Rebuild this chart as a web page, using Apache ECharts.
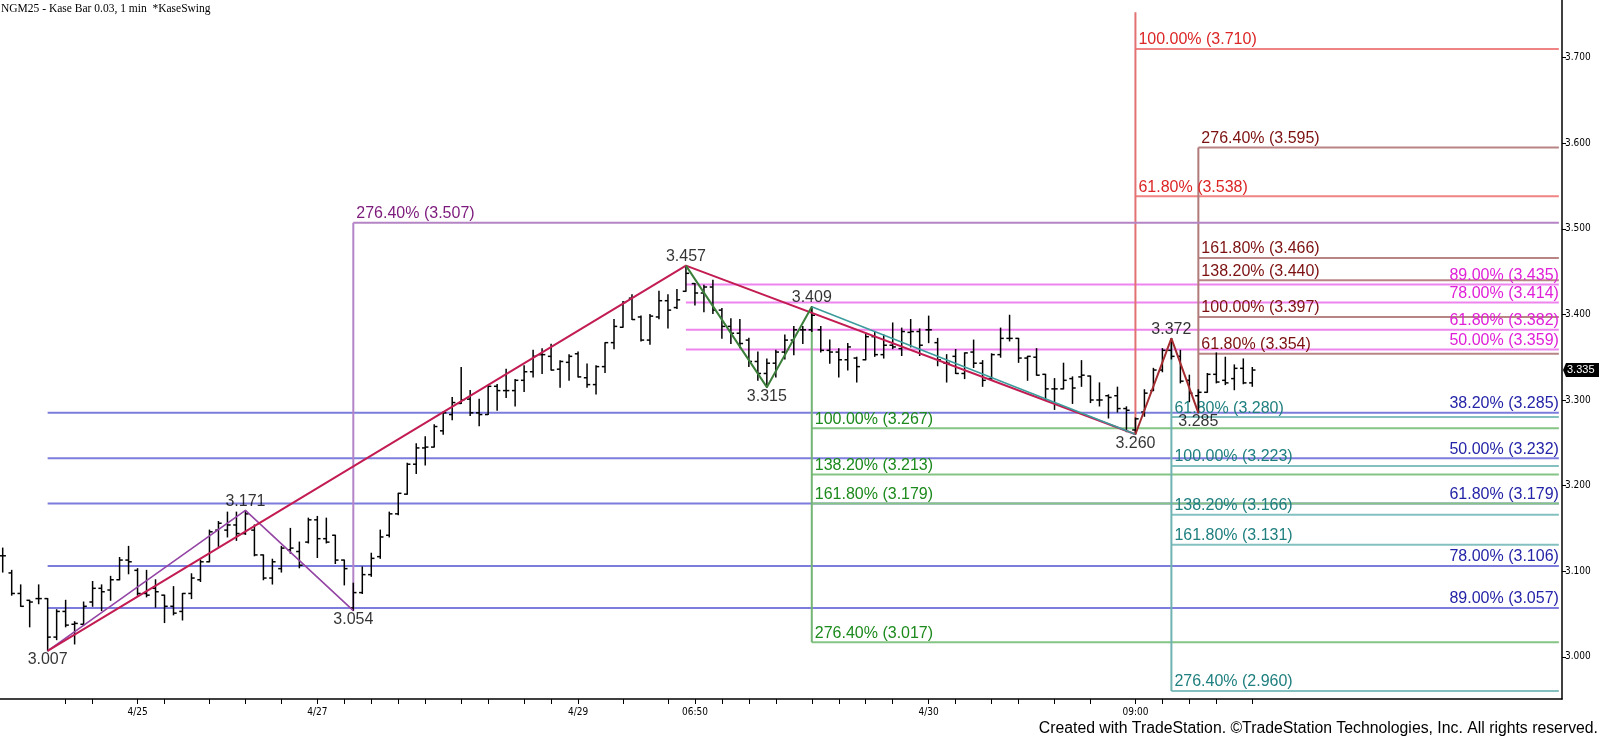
<!DOCTYPE html>
<html><head><meta charset="utf-8">
<script src="https://cdn.jsdelivr.net/npm/echarts@6/dist/echarts.min.js"></script>
<style>html,body{margin:0;padding:0;background:#fff}#c{width:1600px;height:739px}</style>
</head><body><div id="c"></div>
<script>
// ---- bar data (1-min Kase bars) ----
const opens = [3.118,3.098,3.074,3.066,3.068,3.068,3.023,3.053,3.038,3.038,3.064,3.080,3.078,3.090,3.113,3.101,3.074,3.080,3.072,3.059,
3.053,3.074,3.090,3.111,3.148,3.148,3.154,3.144,3.148,3.119,3.092,3.103,3.125,3.123,3.134,3.160,3.138,3.142,3.113,3.057,
3.075,3.096,3.117,3.142,3.167,3.190,3.225,3.244,3.245,3.264,3.283,3.296,3.301,3.285,3.283,3.316,3.311,3.311,3.323,3.333,
3.353,3.351,3.336,3.344,3.354,3.326,3.318,3.339,3.367,3.385,3.419,3.397,3.370,3.397,3.416,3.408,3.427,3.436,3.425,3.432,
3.405,3.386,3.378,3.370,3.345,3.331,3.343,3.356,3.370,3.382,3.382,3.382,3.358,3.356,3.347,3.349,3.347,3.374,3.353,3.364,
3.360,3.379,3.380,3.382,3.367,3.343,3.351,3.331,3.356,3.343,3.325,3.353,3.372,3.372,3.349,3.350,3.330,3.313,3.313,3.325,
3.327,3.328,3.300,3.305,3.305,3.290,3.265,3.286,3.311,3.335,3.358,3.351,3.323,3.305,3.309,3.330,3.323,3.325,3.337,3.320];
const highs = [3.127,3.101,3.084,3.066,3.084,3.068,3.055,3.066,3.041,3.064,3.088,3.084,3.094,3.116,3.129,3.103,3.101,3.090,3.072,3.082,
3.074,3.097,3.113,3.148,3.158,3.169,3.169,3.171,3.154,3.119,3.114,3.129,3.150,3.134,3.162,3.164,3.162,3.142,3.113,3.086,
3.105,3.121,3.148,3.169,3.191,3.226,3.249,3.257,3.271,3.286,3.303,3.338,3.311,3.301,3.317,3.318,3.336,3.324,3.340,3.358,
3.360,3.365,3.346,3.353,3.356,3.342,3.340,3.367,3.394,3.415,3.423,3.398,3.400,3.427,3.423,3.429,3.457,3.436,3.434,3.440,
3.407,3.395,3.394,3.372,3.356,3.348,3.358,3.376,3.386,3.386,3.409,3.386,3.370,3.360,3.366,3.350,3.378,3.380,3.376,3.390,
3.384,3.394,3.383,3.398,3.372,3.353,3.359,3.355,3.370,3.346,3.354,3.384,3.399,3.372,3.351,3.360,3.330,3.325,3.343,3.327,
3.346,3.328,3.320,3.306,3.315,3.292,3.279,3.312,3.337,3.360,3.372,3.358,3.329,3.312,3.331,3.355,3.350,3.341,3.348,3.338];
const lows = [3.099,3.072,3.059,3.035,3.062,3.007,3.020,3.035,3.015,3.037,3.059,3.054,3.066,3.090,3.097,3.072,3.070,3.058,3.040,3.049,
3.043,3.068,3.088,3.111,3.129,3.140,3.136,3.143,3.118,3.090,3.085,3.099,3.121,3.104,3.133,3.116,3.133,3.109,3.084,3.054,
3.074,3.094,3.115,3.140,3.166,3.190,3.214,3.224,3.245,3.260,3.277,3.296,3.282,3.270,3.283,3.288,3.303,3.293,3.310,3.327,
3.331,3.335,3.315,3.323,3.327,3.315,3.307,3.332,3.360,3.385,3.394,3.369,3.365,3.395,3.384,3.407,3.427,3.411,3.403,3.401,
3.372,3.366,3.361,3.339,3.323,3.315,3.327,3.348,3.353,3.366,3.380,3.356,3.343,3.327,3.335,3.321,3.347,3.351,3.349,3.360,
3.352,3.362,3.352,3.367,3.340,3.321,3.331,3.325,3.338,3.316,3.323,3.350,3.369,3.344,3.323,3.329,3.300,3.289,3.313,3.296,
3.316,3.297,3.293,3.279,3.286,3.263,3.260,3.281,3.311,3.333,3.348,3.320,3.298,3.285,3.309,3.320,3.318,3.312,3.319,3.316];
const closes = [3.118,3.074,3.059,3.064,3.068,3.023,3.053,3.037,3.039,3.059,3.080,3.076,3.090,3.113,3.111,3.074,3.072,3.076,3.059,3.051,
3.074,3.092,3.111,3.146,3.156,3.154,3.144,3.167,3.119,3.092,3.111,3.127,3.127,3.107,3.160,3.138,3.134,3.113,3.103,3.075,
3.096,3.115,3.140,3.167,3.191,3.225,3.244,3.245,3.269,3.285,3.297,3.300,3.285,3.283,3.316,3.311,3.311,3.323,3.333,3.351,
3.353,3.335,3.345,3.351,3.327,3.318,3.339,3.367,3.386,3.414,3.394,3.370,3.398,3.416,3.405,3.417,3.448,3.425,3.432,3.405,
3.386,3.378,3.366,3.345,3.331,3.343,3.356,3.370,3.382,3.382,3.399,3.358,3.356,3.347,3.362,3.339,3.374,3.353,3.364,3.362,
3.380,3.380,3.364,3.382,3.347,3.343,3.331,3.355,3.343,3.323,3.353,3.372,3.372,3.349,3.351,3.329,3.313,3.313,3.323,3.314,
3.329,3.300,3.300,3.303,3.290,3.288,3.278,3.308,3.335,3.358,3.351,3.322,3.308,3.309,3.330,3.321,3.320,3.337,3.320,3.335];

// ---- axes ----
const xTickIdx = [7,10,15,18,23,27,31,35,38,41,44,47,51,54,58,61,64,69,74,77,80,83,86,90,93,96,99,103,106,110,113,117,121,126,129,132,135,139];
const xLabelIdx = [15,35,64,77,103,126];
const xLabelText = ['4/25','4/27','4/29','06:50','4/30','09:00'];
const yTicks = [3.0,3.1,3.2,3.3,3.4,3.5,3.6,3.7];
const xMin = -0.3, xMax = 173.45, yMin = 2.9507, yMax = 3.7673;
const fibEnd = 173.1;

// ---- swings ----
const swingMainIdx = [5,76,126],  swingMainVal = [3.007,3.457,3.260];
const swingLateIdx = [126,130,133], swingLateVal = [3.260,3.372,3.285];
const swingPurpleIdx = [5,27,39], swingPurpleVal = [3.007,3.171,3.054];
const swingGreenIdx = [76,85,90], swingGreenVal = [3.457,3.315,3.409];
const swingTealIdx = [90,126], swingTealVal = [3.409,3.260];
const pivotIdx = [5,27,39,76,85,90,126,130,133];
const pivotVal = [3.007,3.171,3.054,3.457,3.315,3.409,3.260,3.372,3.285];
const pivotUp  = [false,true,false,true,false,true,false,true,false];

// ---- Fibonacci levels ----
const blueLevels = [3.285,3.232,3.179,3.106,3.057], bluePct = ['38.20%','50.00%','61.80%','78.00%','89.00%'];
const magentaLevels = [3.435,3.414,3.382,3.359], magentaPct = ['89.00%','78.00%','61.80%','50.00%'];
const redLevels = [3.710,3.538], redPct = ['100.00%','61.80%'];
const brownLevels = [3.595,3.466,3.440,3.397,3.354], brownPct = ['276.40%','161.80%','138.20%','100.00%','61.80%'];
const purpleLevels = [3.507], purplePct = ['276.40%'];
const greenLevels = [3.267,3.213,3.179,3.017], greenPct = ['100.00%','138.20%','161.80%','276.40%'];
const tealLevels = [3.280,3.223,3.166,3.131,2.960], tealPct = ['61.80%','100.00%','138.20%','161.80%','276.40%'];

const FONT = '"Liberation Sans", Arial, sans-serif';
const groups = [
  {start:5,   levels:blueLevels,    pct:bluePct,    line:'#7c7cdc', text:'#2424a8', align:'right'},
  {start:76,  levels:magentaLevels, pct:magentaPct, line:'#ee84ee', text:'#e020d8', align:'right'},
  {start:126, levels:redLevels,     pct:redPct,     line:'#f08484', text:'#dc2626', align:'left', vFrom:3.260, vTo:3.753, vColor:'#e27272'},
  {start:133, levels:brownLevels,   pct:brownPct,   line:'#b88484', text:'#7c1010', align:'left', vFrom:3.285, vTo:3.595, vColor:'#b07a7a'},
  {start:39,  levels:purpleLevels,  pct:purplePct,  line:'#b484c4', text:'#7c1a7c', align:'left', vFrom:3.054, vTo:3.507, vColor:'#b484c8'},
  {start:90,  levels:greenLevels,   pct:greenPct,   line:'#84c484', text:'#1c8a1c', align:'left', vFrom:3.409, vTo:3.017, vColor:'#74b474'},
  {start:130, levels:tealLevels,    pct:tealPct,    line:'#84c0c0', text:'#1f7f7f', align:'left', vFrom:3.372, vTo:2.960, vColor:'#70b2b2'}
];

const series = [];
groups.forEach(g => {
  series.push({
    type:'custom', coordinateSystem:'cartesian2d', silent:true, clip:false, z:1,
    data: g.levels.map(l => [g.start, l, fibEnd]),
    encode:{x:[0,2], y:1},
    renderItem:(params, api) => {
      const v = api.value(1);
      const p1 = api.coord([api.value(0), v]);
      const p2 = api.coord([api.value(2), v]);
      const txt = g.pct[params.dataIndex] + ' (' + v.toFixed(3) + ')';
      return {type:'group', children:[
        {type:'line', shape:{x1:p1[0], y1:p1[1], x2:p2[0], y2:p2[1]}, style:{stroke:g.line, lineWidth:2}},
        {type:'text', z2:5, style:{text:txt, x: g.align === 'left' ? p1[0] + 3 : p2[0], y:p1[1] - 1,
          fill:g.text, font:'16px ' + FONT, align:g.align, verticalAlign:'bottom'}}
      ]};
    }
  });
  if (g.vFrom !== undefined) {
    series.push({
      type:'custom', coordinateSystem:'cartesian2d', silent:true, clip:false, z:1,
      data:[[g.start, g.vFrom, g.vTo]], encode:{x:0, y:[1,2]},
      renderItem:(params, api) => {
        const a = api.coord([api.value(0), api.value(1)]);
        const b = api.coord([api.value(0), api.value(2)]);
        return {type:'line', shape:{x1:a[0], y1:a[1], x2:b[0], y2:b[1]}, style:{stroke:g.vColor, lineWidth:2}};
      }
    });
  }
});

// OHLC bars
series.push({
  type:'custom', coordinateSystem:'cartesian2d', silent:true, z:3,
  data: opens.map((o, i) => [i, o, highs[i], lows[i], closes[i]]),
  encode:{x:0, y:[1,2,3,4]},
  renderItem:(params, api) => {
    const i = api.value(0);
    const h = api.coord([i, api.value(2)]);
    const l = api.coord([i, api.value(3)]);
    const o = api.coord([i, api.value(1)]);
    const c = api.coord([i, api.value(4)]);
    const st = {stroke:'#000', lineWidth:1.5};
    return {type:'group', children:[
      {type:'line', shape:{x1:h[0], y1:h[1] - 0.5, x2:l[0], y2:l[1] + 0.5}, style:st},
      {type:'line', shape:{x1:o[0] - 3.2, y1:o[1], x2:o[0], y2:o[1]}, style:st},
      {type:'line', shape:{x1:c[0], y1:c[1], x2:c[0] + 3.2, y2:c[1]}, style:st}
    ]};
  }
});

function swing(idx, val, color, w) {
  series.push({type:'line', data: idx.map((x, k) => [x, val[k]]), symbol:'none', silent:true, z:4,
    lineStyle:{color:color, width:w}});
}
swing(swingPurpleIdx, swingPurpleVal, '#9444a4', 1.6);
swing(swingMainIdx, swingMainVal, '#c21c52', 2);
swing(swingGreenIdx, swingGreenVal, '#3a7e3a', 2);
swing(swingTealIdx, swingTealVal, '#3c9c9c', 1.6);
swing(swingLateIdx, swingLateVal, '#a42c30', 2);

// pivot labels
series.push({
  type:'scatter', symbolSize:0, silent:true, z:6,
  data: pivotIdx.map((x, k) => ({value:[x, pivotVal[k]],
    label:{show:true, position: pivotUp[k] ? 'top' : 'bottom', distance:1,
      formatter: pivotVal[k].toFixed(3), color:'#000', fontSize:16, fontFamily:FONT}}))
});

// last price box on the axis
series.push({
  type:'custom', coordinateSystem:'cartesian2d', silent:true, clip:false, z:10,
  data:[[xMax, closes[closes.length - 1]]], encode:{x:0, y:1},
  renderItem:(params, api) => {
    const p = api.coord([api.value(0), api.value(1)]);
    return {type:'group', children:[
      {type:'polygon', shape:{points:[[p[0]+1,p[1]],[p[0]+4,p[1]-7],[p[0]+37,p[1]-7],[p[0]+37,p[1]+7],[p[0]+4,p[1]+7]]}, style:{fill:'#000'}},
      {type:'text', style:{text:api.value(1).toFixed(3), x:p[0]+5, y:p[1], fill:'#fff', font:'11px ' + FONT, verticalAlign:'middle'}}
    ]};
  }
});

const chart = echarts.init(document.getElementById('c'), null, {renderer:'canvas'});
chart.setOption({
  animation:false,
  backgroundColor:'#fff',
  grid:{left:0, right:38, top:0, bottom:40, containLabel:false},
  xAxis:{type:'value', min:xMin, max:xMax, splitLine:{show:false},
    axisLine:{show:true, onZero:false, lineStyle:{color:'#000', width:1.5}},
    axisTick:{show:true, customValues:xTickIdx, length:5, lineStyle:{color:'#000'}},
    axisLabel:{show:true, customValues:xLabelIdx, margin:8, color:'#000', fontSize:10,
      fontFamily:'"DejaVu Sans Condensed", "Liberation Sans Narrow", sans-serif',
      formatter: v => { const k = xLabelIdx.indexOf(Math.round(v)); return k >= 0 ? xLabelText[k] : ''; }}
  },
  yAxis:{type:'value', position:'right', min:yMin, max:yMax, splitLine:{show:false},
    axisLine:{show:true, onZero:false, lineStyle:{color:'#000', width:1.5}},
    axisTick:{show:true, customValues:yTicks, length:4, lineStyle:{color:'#000'}},
    axisLabel:{show:true, customValues:yTicks, margin:3, color:'#000', fontSize:10,
      fontFamily:'"DejaVu Sans Condensed", "Liberation Sans Narrow", sans-serif',
      formatter: v => v.toFixed(3)}
  },
  graphic:[
    {type:'text', left:1, top:3, style:{text:'NGM25 - Kase Bar 0.03, 1 min  *KaseSwing', fill:'#000', font:'11.5px "Liberation Serif", "Times New Roman", serif'}},
    {type:'text', right:2, bottom:2, style:{text:'Created with TradeStation. \u00A9TradeStation Technologies, Inc. All rights reserved.', fill:'#000', font:'15.8px ' + FONT}}
  ],
  series: series
});
</script>
</body></html>
